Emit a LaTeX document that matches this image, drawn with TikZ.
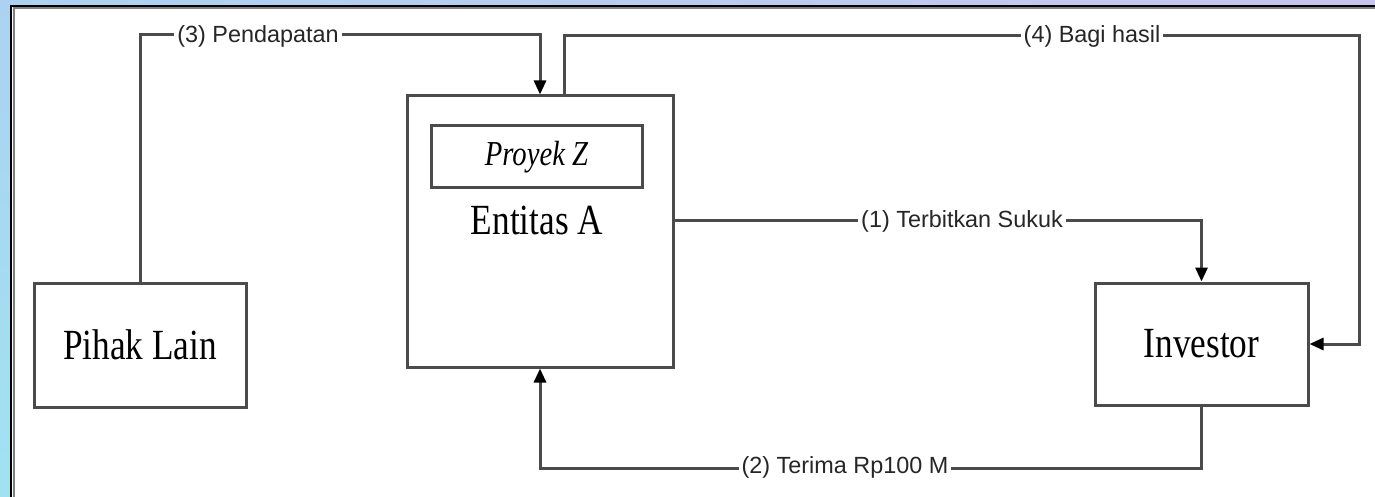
\documentclass[tikz,border=0pt]{standalone}
\usepackage{fontspec}
\setmainfont{Liberation Sans}
\newfontfamily\boxfont[FakeStretch=0.82]{Liberation Serif}
\usetikzlibrary{arrows.meta,shadings}
\definecolor{linec}{RGB}{75,75,75}
\definecolor{bgA}{RGB}{172,210,242}
\definecolor{bgB}{RGB}{200,196,240}
\definecolor{bgC}{RGB}{160,226,242}
\begin{document}
\begin{tikzpicture}[x=0.5pt,y=-0.5pt,
  boxst/.style={draw=linec, line width=1.5pt, fill=white, inner sep=0pt},
  boxtxt/.style={font=\boxfont\fontsize{21.5pt}{24pt}\selectfont, inner sep=0pt},
  conn/.style={draw=linec, line width=1.5pt},
  arr/.style={conn, -{Triangle[width=6pt,length=7pt,color=black]}},
  lbl/.style={fill=white, inner xsep=1.5pt, inner ysep=1pt, font=\fontsize{11.7pt}{13pt}\selectfont, text=black!85}
]
\useasboundingbox (0,0) rectangle (1375,497);
% background
\shade[upper left=bgA, upper right=bgB, lower left=bgC, lower right=bgB] (0,0) rectangle (1375,497);
\fill[white] (11,6) rectangle (1376,498);
\draw[gray, line width=1pt] (13.5,498) -- (13.5,8.5) -- (1376,8.5);
\draw[black, line width=1.2pt] (11,498) -- (11,6) -- (1376,6);

% boxes
\node[boxst, minimum width=106pt, minimum height=62pt] (pihak) at (140,345) {};
\node[boxtxt] (pihaktxt) at (140,345) {Pihak Lain};
\node[boxst, minimum width=133pt, minimum height=135.5pt] (entitas) at (540,231.5) {};
\node[boxst, minimum width=105.5pt, minimum height=31pt] (proyek) at (536.5,157) {};
\node[inner sep=0pt, font=\boxfont\fontsize{17.5pt}{20pt}\selectfont\itshape] (proyektxt) at (536.5,157) {Proyek Z};
\node[boxtxt] (entitastxt) at (537,220) {Entitas A};
\node[boxst, minimum width=106.5pt, minimum height=61pt] (investor) at (1201.5,344) {};
\node[boxtxt] (investortxt) at (1201.5,344) {Investor};

% connectors
\draw[arr] (pihak.north) -- ++(0,-247) -| (entitas.north);
\node[lbl] (l3) at (258,36) {(3) Pendapatan};

\draw[arr] ([xshift=12pt]entitas.north) |- (1359,36) |- (investor.east);
\node[lbl] (l4) at (1092,36) {(4) Bagi hasil};

\draw[arr] ([yshift=5.25pt]entitas.east) -| (investor.north);
\node[lbl] (l1) at (962,221) {(1) Terbitkan Sukuk};

\draw[arr] (investor.south) -- ++(0,62) -| (entitas.south);
\node[lbl] (l2) at (845,467) {(2) Terima Rp100 M};
\end{tikzpicture}
\end{document}
